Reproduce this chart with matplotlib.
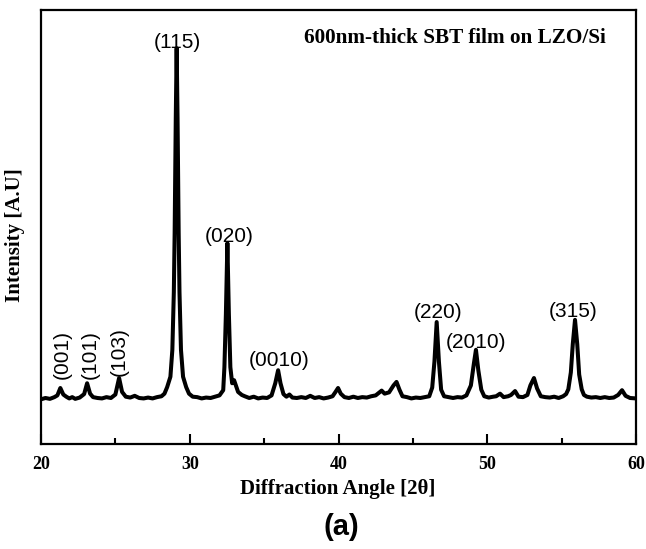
import numpy as np
import matplotlib
matplotlib.use("Agg")
import matplotlib.pyplot as plt
from matplotlib.ticker import MultipleLocator

# XRD pattern: 2theta [deg] and intensity [a.u.]
two_theta = [20.0, 20.3, 20.6, 20.9, 21.1, 21.3, 21.5, 21.7, 21.9, 22.1, 22.3, 22.6,
             22.9, 23.1, 23.3, 23.5, 23.8, 24.1, 24.4, 24.7, 25.0, 25.25, 25.45, 25.7,
             26.0, 26.3, 26.6, 26.9, 27.2, 27.5, 27.8, 28.1, 28.3, 28.48, 28.7, 28.83,
             28.93, 28.985, 29.06, 29.12, 29.18, 29.255, 29.31, 29.41, 29.55, 29.76, 29.95,
             30.2, 30.5, 30.8, 31.1, 31.4, 31.7, 32.0, 32.25, 32.33, 32.43, 32.53, 32.63,
             32.73, 32.85, 32.98, 33.1, 33.25, 33.5, 33.7,
             34.0, 34.3, 34.6, 34.9, 35.2, 35.5, 35.75, 35.94, 36.1, 36.3, 36.5, 36.7,
             36.9, 37.2, 37.5, 37.8, 38.1, 38.4, 38.7, 39.0, 39.3, 39.6, 39.8, 39.97,
             40.15, 40.4, 40.7, 41.0, 41.3, 41.6, 41.9, 42.2, 42.5, 42.9, 43.1, 43.4,
             43.7, 43.9, 44.1, 44.3, 44.6, 44.9, 45.2, 45.5, 45.8, 46.1, 46.3, 46.45,
             46.6, 46.75, 46.9, 47.1, 47.4, 47.7, 48.0, 48.3, 48.6, 48.9, 49.1, 49.24,
             49.4, 49.6, 49.8, 50.1, 50.4, 50.6, 50.86, 51.1, 51.4, 51.6, 51.87, 52.1,
             52.4, 52.7, 52.9, 53.14, 53.35, 53.6, 53.9, 54.2, 54.5, 54.8, 55.1, 55.3,
             55.45, 55.62, 55.75, 55.9, 56.05, 56.18, 56.35, 56.5, 56.7, 57.0, 57.3, 57.6,
             57.9, 58.2, 58.5, 58.8, 59.06, 59.3, 59.6, 60.0]
intensity = [10.3, 10.6, 10.4, 10.8, 11.2, 12.9, 11.4, 10.9, 10.5, 10.8, 10.4, 10.7,
             11.5, 14.0, 11.6, 10.8, 10.6, 10.5, 10.8, 10.6, 11.4, 15.2, 12.0, 10.9,
             10.7, 11.1, 10.6, 10.5, 10.7, 10.5, 10.8, 11.0, 11.6, 13.1, 15.5, 21.7,
             35.0, 48.6, 75.0, 91.2, 75.0, 48.6, 35.0, 21.7, 15.5, 13.1, 11.6,
             10.9, 10.8, 10.5, 10.7, 10.6, 10.9, 11.2, 12.4, 17.7, 30.0, 46.3, 30.0,
             17.7, 14.0, 14.7, 13.5, 12.0, 11.3, 11.0,
             10.6, 10.9, 10.5, 10.7, 10.6, 11.2, 14.0, 17.0, 14.0, 11.5, 10.9, 11.4,
             10.7, 10.6, 10.8, 10.6, 11.1, 10.6, 10.8, 10.5, 10.7, 11.0, 12.0, 12.9,
             11.6, 10.8, 10.6, 10.9, 10.6, 10.8, 10.7, 11.0, 11.2, 12.3, 11.6, 11.9,
             13.5, 14.3, 12.5, 11.0, 10.8, 10.5, 10.7, 10.6, 10.8, 11.0, 13.0, 19.0,
             28.1, 19.0, 12.5, 11.0, 10.8, 10.6, 10.8, 10.7, 11.2, 13.5, 18.5, 21.7,
             17.0, 12.5, 11.0, 10.7, 10.9, 11.0, 11.6, 10.8, 11.0, 11.3, 12.2, 10.9,
             10.8, 11.3, 13.5, 15.2, 12.8, 11.0, 10.8, 10.7, 10.9, 10.6, 11.0, 11.5,
             12.6, 16.5, 23.0, 28.6, 23.0, 16.0, 12.6, 11.3, 10.9, 10.7, 10.8, 10.6,
             10.8, 10.6, 10.7, 11.3, 12.4, 11.1, 10.6, 10.5]

# peak labels and where they sit
peak_names = ["(001)", "(101)", "(103)", "(115)", "(020)", "(0010)", "(220)", "(2010)", "(315)"]
peak_x = [21.41, 23.29, 25.24, 29.14, 32.64, 36.0, 46.69, 49.24, 55.76]
peak_y = [20.7, 20.7, 21.4, 92.6, 47.9, 19.35, 30.4, 23.5, 30.6]
peak_rot = [90, 90, 90, 0, 0, 0, 0, 0, 0]

serif = "Liberation Serif"
sans = "Liberation Sans"

fig = plt.figure(figsize=(6.46, 5.49), dpi=100)
ax = fig.add_axes([41 / 646, 1 - 444 / 549, 595 / 646, 434 / 549])

ax.plot(two_theta, intensity, color="black", linewidth=2.9, solid_joinstyle="round")

for name, px, py, r in zip(peak_names, peak_x, peak_y, peak_rot):
    ax.text(px, py, name, ha="center", va="center", rotation=r,
            fontsize=15, family=sans)

ax.text(0.696, 0.935, "600nm-thick SBT film on LZO/Si", transform=ax.transAxes,
        ha="center", va="center", fontsize=15.3, fontweight="bold", family=serif)

ax.set_xlim(20, 60)
ax.set_ylim(0, 100)
ax.xaxis.set_major_locator(MultipleLocator(10))
ax.xaxis.set_minor_locator(MultipleLocator(5))
ax.tick_params(axis="x", which="major", direction="in", length=7, width=1.5, pad=8.5,
               top=False)
ax.tick_params(axis="x", which="minor", direction="in", length=4, width=1.5, top=False)
ax.set_yticks([])
for lbl in ax.get_xticklabels():
    lbl.set_fontfamily(serif)
    lbl.set_fontweight("bold")
    lbl.set_fontsize(13)
for sp in ax.spines.values():
    sp.set_linewidth(1.6)

fig.text(338 / 646, 1 - 489 / 549, "Diffraction Angle [2\u03b8]", ha="center", va="center",
         fontsize=15, fontweight="bold", family=serif)
fig.text(15 / 646, 1 - 235 / 549, "Intensity [A.U]", ha="center", va="center",
         rotation=90, fontsize=15, fontweight="bold", family=serif)
fig.text(341 / 646, 1 - 527 / 549, "(a)", ha="center", va="center",
         fontsize=21, fontweight="bold", family=sans)

fig.savefig("out.png", dpi=100)
